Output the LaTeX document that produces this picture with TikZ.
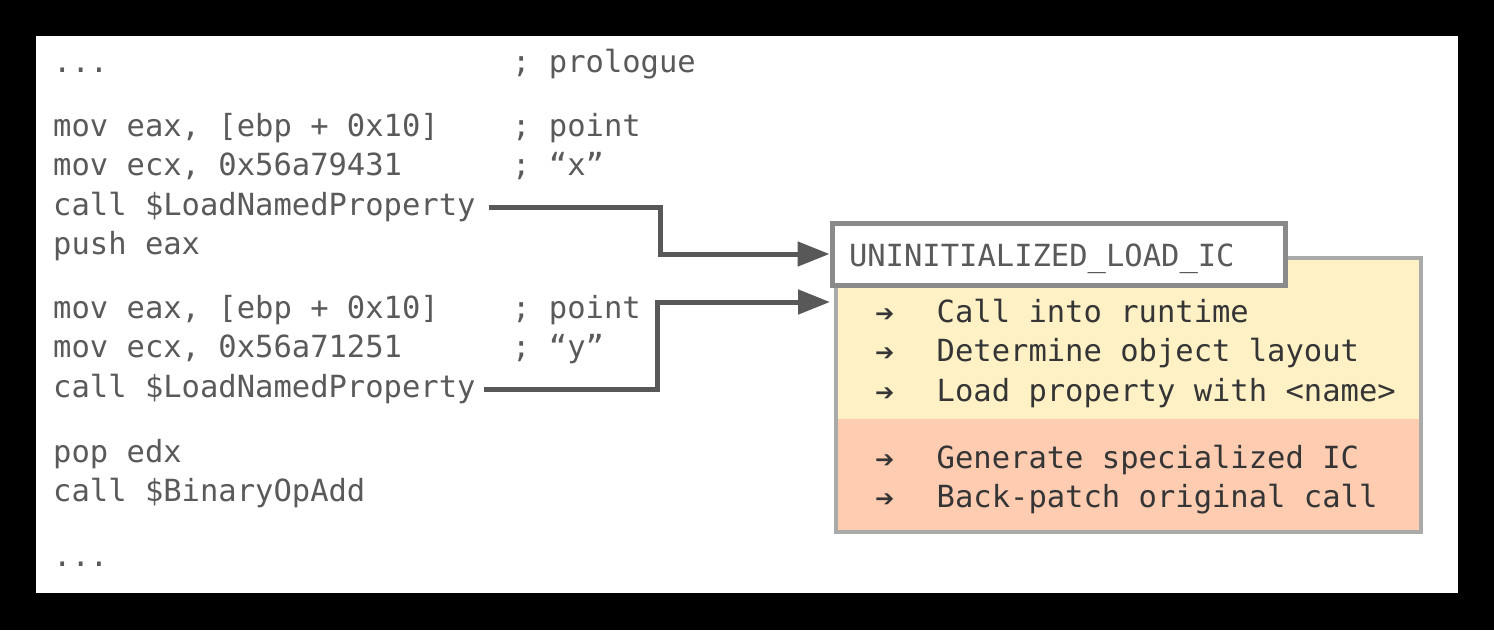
\documentclass[tikz,border=0pt]{standalone}
\usepackage{fontspec}
\setmonofont{DejaVu Sans Mono}
\newfontfamily\arrowfont{DejaVu Sans}
\usetikzlibrary{arrows.meta}
\definecolor{codegray}{HTML}{5A5A5A}
\definecolor{boxtext}{HTML}{353535}
\definecolor{linegray}{HTML}{585858}
\definecolor{hdrborder}{HTML}{8A8A8A}
\definecolor{icborder}{HTML}{AAAAAA}
\definecolor{icyellow}{HTML}{FFF1C6}
\definecolor{icorange}{HTML}{FDCCB1}
\begin{document}
\begin{tikzpicture}[x=1pt,y=-1pt,
  code/.style={anchor=base west, inner sep=0pt, text=codegray, font=\ttfamily\fontsize{30.5}{36}\selectfont},
  btext/.style={anchor=base west, inner sep=0pt, text=boxtext, font=\ttfamily\fontsize{30.5}{36}\selectfont},
  barrow/.style={anchor=base west, inner sep=0pt, text=boxtext, font=\arrowfont\fontsize{23}{26}\selectfont},
  conn/.style={draw=linegray, line width=5pt, -{Triangle[length=32pt,width=24pt]}},
  icbox/.style={draw=icborder, line width=4pt, fill=icyellow, minimum width=585pt, minimum height=274pt, inner sep=0pt},
  hdrbox/.style={draw=hdrborder, line width=5pt, fill=white, minimum width=453pt, minimum height=62pt,
    inner xsep=17pt, inner ysep=0pt, text width=419pt, align=left, text height=24pt, text depth=0pt,
    text=codegray, font=\ttfamily\fontsize{30.5}{36}\selectfont}
]
\fill[black] (0,0) rectangle (1494,630);
\useasboundingbox (0,0) rectangle (1494,630);
\fill[white] (36,36) rectangle (1458,593);

% code
\node[code] (d1) at (53,72) {...};
\node[code] (k1) at (512,72) {; prologue};
\node[code] (a1) at (53,136) {mov eax, [ebp + 0x10]};
\node[code] (k2) at (512,136) {; point};
\node[code] (a2) at (53,175.5) {mov ecx, 0x56a79431};
\node[code] (k3) at (512,175.5) {; “x”};
\node[code] (call1) at (53,215) {call \$LoadNamedProperty};
\node[code] (a4) at (53,254.5) {push eax};
\node[code] (b1) at (53,318) {mov eax, [ebp + 0x10]};
\node[code] (k4) at (512,318) {; point};
\node[code] (b2) at (53,357.5) {mov ecx, 0x56a71251};
\node[code] (k5) at (512,357.5) {; “y”};
\node[code] (call2) at (53,397) {call \$LoadNamedProperty};
\node[code] (p1) at (53,462) {pop edx};
\node[code] (p2) at (53,501) {call \$BinaryOpAdd};
\node[code] (d2) at (53,566) {...};

% IC box
\node[icbox, path picture={
  \fill[icorange] (path picture bounding box.south west) rectangle ([yshift=113pt]path picture bounding box.south east);
}] (ic) at (1128.5,395) {};
\node[hdrbox] (hdr) at (1058.5,254) {UNINITIALIZED\_LOAD\_IC};

\node[barrow] (r1) at (875,321) {➔};
\node[btext] (t1) at (936.5,322) {Call into runtime};
\node[barrow] (r2) at (875,360.5) {➔};
\node[btext] (t2) at (936.5,361.5) {Determine object layout};
\node[barrow] (r3) at (875,400) {➔};
\node[btext] (t3) at (936.5,401) {Load property with <name>};
\node[barrow] (r4) at (875,467) {➔};
\node[btext] (t4) at (936.5,468) {Generate specialized IC};
\node[barrow] (r5) at (875,506.5) {➔};
\node[btext] (t5) at (936.5,507.5) {Back-patch original call};

% connectors
\coordinate (bend1) at (660,254);
\coordinate (bend2) at (657,302);
\coordinate (tgt2) at (830,302);
\draw[conn] ([xshift=13pt,yshift=8pt]call1.base east) -| (bend1) -- (hdr.west);
\draw[conn] ([xshift=8pt,yshift=8pt]call2.base east) -| (bend2) -- (tgt2);
\end{tikzpicture}
\end{document}
